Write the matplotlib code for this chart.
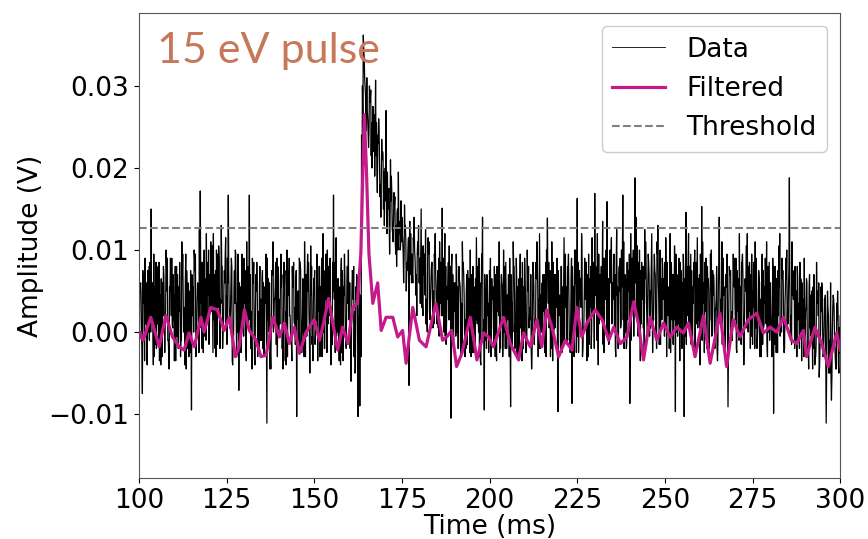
import numpy as np
import matplotlib
matplotlib.use("Agg")
import matplotlib.pyplot as plt

# ---- data (amplitudes in units of 0.1 mV) ----
# samples at 100.0, 100.5, 101.0, ... ms
data_units_a = [
    30, 60, -75, 40, 20, 75, -10, 150, 5, 50,
    -20, 65, 35, -30, 80, 15, 50, -25, 90, 10,
    45, -35, 70, 25, -10, 95, 30, -45, 60, 20,
    -95, 55, 75, 5, 40, 172, -20, 65, 30, 85,
    -15, 110, 40, 70, -30, 95, 20, 130, 0, 60,
    45, 167, 10, 80, -5, 100, 35, -71, 55, 20,
    90, -20, 60, 167, 25, 70, -35, 50, 15, 80,
    -10, 60, 35, -111, 45, -25, 70, 10, 85, -30,
    40, 95, 5, 55, -40, 75, 20, -15, 65, 30,
    -103, 50, 85, 0, 40, -30, 70, 25, 105, -5,
    60, 15, -35, 80, 40, 120, -20, 55, 10, 90,
    30, 167, -25, 65, 20, -40, 75, 45, -5, 60,
    15, -60, 70, 25, 40, -103, -90, 240, 362, 300,
    310, 225, 285, 200, 260, 307, 170, 245, 140, 220,
    130, 270, 150, 95, 190, 110, 165, 80, 195, 100,
    140, 60, 130, 85, -65, 120, 70, 140, 45, 110,
    60, 150, 20, 95, 40, 115, 15, 85, 50, 120,
    10, 90, 35, 151, 0, 80, 40, 105, -105, 70,
    25, 95, -20, 60, 35, 85, -30, 70, 15, 100,
    40, -25, 65, 10, 90, -40, 140, -95, 50, 20,
    75, -15, 55, 30, -35, 80, 10, 60, 100, -20,
    45, 70, -91, 35, 80, 0, 55, -30, 65, 20,
    90, -10, 50, 30, -45, 75, 15, 110, 40, -20,
    60, 25, 85, 139, 5, 50, -35, 70, 30, -97,
    45, 80, -10, 60, 20, 95, -25, -87, 55, 100,
    163, 10, 65, -30, 45, 85, 5, 60, -20, 75,
    169, 30, -40, 70, 15, 90, 40, 159, -15, 60,
    25, 95, -30, 55, 80, 10, 167, 35, -20, 75,
    -87, 50, 100, 188, 20, 85, -35, 60, 30, 110,
    0, 70, 45, -25, 95, 25, 130, -10, 65, 40,
    85, -30, 55, 120, 15, 70, -97, 45, 90, 5,
    60, -103, 146, 20, 80, -15, 55, 100, 10, 65,
    -40, 153, 35, 75, -20, 50, 95, 0, 60, 30,
    -35, 140, 40, 80, -10, 55, -91, 70, 20, 95,
    35, -25, 65, 10, 85, -40, 50, 120, 25, 70,
    -15, 45, 90, 5, 60, -30, 75, 35, 110, 0,
    55, -30, -99, 80, 40, 105, 10, 65, -25, 90,
    30, 188, 20, 75, -20, 50, 15, 85, -35, 40,
    0, 60, -45, 45, 10, 70, -30, 35, -55, 55,
    0, 40, -111, 30, -50, -83, 45, -20, 35, -40,
    20,
]
# samples at 100.125, 100.625, 101.125, ... ms
data_units_c = [
    -30, 45, 75, -35, 60, 0, 85, 15, -40, 55,
    80, -15, 45, -30, 70, 20, 90, -45, 60, 5,
    -35, 65, 15, 85, -10, 50, -40, 75, 35, -25,
    70, 0, 95, 40, -25, 75, 15, 100, -10, 60,
    10, 90, -25, 65, 100, 30, -20, 80, 5, 95,
    -15, 75, 25, -35, 55, 95, 0, 60, -25, 70,
    45, -35, 80, 15, -15, 60, -40, 85, 25, -10,
    65, -25, 35, 90, 0, -45, 70, 40, -15, 80,
    10, 55, -45, 75, -5, 60, 20, -35, 85, -15,
    50, -25, 75, 20, -30, 70, 95, 0, 45, -35,
    75, 15, 55, -30, 90, 0, 65, -25, 80, 25,
    -15, 60, 85, 10, -35, 75, 20, 95, -20, 35,
    60, -5, 40, -50, 70, -40, 45, 180, 345, 290,
    270, 245, 295, 230, 265, 215, 240, 200, 185, 215,
    185, 150, 165, 130, 170, 140, 110, 145, 125, 105,
    120, 90, 110, 75, 105, 85, 60, 100, 70, 95,
    90, 30, 105, 45, 15, 95, 35, 85, 10, 75,
    60, -5, 85, 20, 75, -15, 65, 15, 80, 5,
    40, 75, -20, 55, -25, 70, 15, -15, 65, 5,
    -25, 55, 15, 80, -30, 45, -5, 70, -20, 35,
    -10, 65, 5, -30, 80, 20, -20, 55, 0, 85,
    45, -30, 70, 0, 40, 90, -25, 60, 10, -20,
    65, -10, 80, 15, -25, 55, 5, 90, -20, 45,
    0, 70, -30, 60, 20, -20, 85, 5, 45, 75,
    40, -25, 60, 95, -15, 45, 5, 80, -30, 55,
    -5, 75, 30, -20, 90, 15, -30, 65, 5, 85,
    45, -10, 95, 20, 65, -25, 75, 35, -5, 90,
    60, 0, 85, -20, 50, 100, 15, 70, -15, 75,
    30, 90, -5, 60, 105, 10, 75, 40, -20, 85,
    55, -5, 95, 25, 75, -20, 60, 100, 15, 65,
    10, 85, 40, -25, 70, 15, 95, -5, 50, 75,
    25, 65, -15, 90, 0, 75, 35, -25, 70, 15,
    95, -10, 60, 25, 80, -20, 50, 75, 5, 40,
    -15, 70, 15, 90, -5, 55, -25, 75, 25, 60,
    15, 75, -10, 55, 95, -20, 60, 25, 85, -5,
    50, -20, 70, 15, -30, 75, 5, 90, -15, 45,
    60, -10, 80, 30, -25, 55, 15, 75, -20, 65,
    10, 60, -15, 40, 80, -30, 35, 0, 60, -30,
    25, -25, 55, -5, -45, 40, -15, 50, -40, 25,
    -30, 35, -50, 20, -20, -55, 40, -35, 15, -50,
]
# samples at 100.25, 100.75, 101.25, ... ms
data_units_b = [
    55, 0, 35, 90, -25, 45, 70, 10, 95, -15,
    40, 85, -40, 60, 25, 100, -10, 55, 20, 70,
    15, 80, -20, 50, 110, 0, 65, 35, -30, 75,
    20, 100, -30, 60, 125, 35, 85, -5, 120, 45,
    70, 25, 120, -20, 60, 105, 40, 80, 55, 115,
    90, 30, 60, -40, 75, 20, 95, 0, 50, 85,
    35, 110, 10, 70, -45, 85, 30, 60, -25, 40,
    75, -30, 95, 15, 60, 5, 110, 40, -15, 65,
    10, 70, 30, -35, 100, 45, -5, 80, 15, 60,
    20, 90, -25, 65, 110, 5, 50, -50, 80, 35,
    -15, 95, 25, 55, -30, 75, 40, 100, 20, -40,
    85, 40, 115, 0, 55, 90, -35, 65, 25, 100,
    -20, 50, 80, -45, 60, 20, 40, 300, 335, 245,
    260, 300, 215, 275, 190, 255, 230, 165, 235, 150,
    200, 120, 175, 210, 125, 170, 95, 150, 120, 160,
    110, 155, 50, 100, 135, 60, 115, 90, 20, 130,
    35, 105, 70, 125, 0, 110, 60, 30, 95, 45,
    75, 110, 20, 65, 120, 15, 85, 30, 95, -10,
    60, 0, 80, 30, 110, 45, -20, 75, 50, -30,
    80, 30, 115, 25, 60, 95, 0, 45, 70, -25,
    90, 40, -15, 70, 25, 110, 55, -30, 80, 35,
    15, 90, 45, 110, -20, 65, 30, 95, -35, 55,
    40, 100, 5, 70, 25, -15, 85, 50, 120, 10,
    70, -25, 100, 35, 75, 110, 0, 60, 90, 20,
    -20, 55, 115, 30, 80, -10, 65, 40, 100, -25,
    85, 40, 120, 5, 60, -35, 95, 30, 115, 45,
    80, 120, 10, 60, 135, 45, 100, -10, 75, 115,
    40, 70, 125, -20, 90, 55, 110, 0, 85, 50,
    120, 30, 75, 140, 45, 100, 10, 80, 125, 35,
    95, 50, 120, 15, 70, 110, 40, -15, 90, 60,
    115, 30, -20, 85, 45, 105, 0, 70, -35, 60,
    95, 25, 80, 120, 45, -10, 85, 40, 115, 20,
    75, 110, -25, 90, 55, 15, 100, 45, -20, 80,
    60, 20, 110, 45, -30, 95, 40, 75, -10, 55,
    90, 25, 120, -15, 70, 35, 105, 0, 60, 95,
    30, 110, -20, 75, 40, 95, 10, 65, -30, 85,
    20, 90, 50, -25, 75, 120, 0, 60, 35, 100,
    55, 10, 110, 40, -15, 80, 25, 65, -5, 90,
    30, -30, 70, 5, 55, -40, 85, 20, -15, 60,
    -25, 45, 10, -50, 60, 0, 30, -45, 50, 5,
]
# samples at 100.375, 100.875, 101.375, ... ms
data_units_d = [
    55, -20, 70, 10, -40, 80, 0, 60, -30, 85,
    10, -35, 65, 20, -25, 80, -10, 50, 90, 15,
    80, -5, 55, -30, 65, 5, 95, -20, 50, 15,
    25, 90, -15, 55, 5, 85, -25, 65, 15, 100,
    30, 105, 15, 75, -15, 90, 35, -20, 75, 10,
    60, 5, 90, -15, 35, -30, 75, 15, 95, -5,
    75, 10, 55, -20, 90, 0, 70, -30, 55, 5,
    -20, 55, -10, 65, -45, 75, 0, 55, 90, -5,
    65, -20, 85, 25, -30, 90, -5, 55, 10, 75,
    15, 85, 0, -25, 55, -5, 85, 25, -15, 65,
    0, 55, 80, -15, 65, -20, 95, 15, 65, -10,
    50, 85, -5, 65, 15, -25, 55, -5, 80, 15,
    5, 75, -30, 55, -5, 50, -30, 250, 310, 270,
    240, 280, 255, 220, 250, 205, 260, 180, 210, 195,
    160, 195, 140, 160, 120, 155, 130, 100, 135, 110,
    95, 125, 80, 115, 70, 95, 110, 65, 95, 60,
    100, 35, 85, 10, 110, 25, 75, 5, 90, 30,
    5, 75, 20, 90, -5, 55, 15, 80, -15, 60,
    -5, 55, 65, -30, 75, -5, 50, 60, -25, 70,
    60, -20, 65, 0, -35, 80, 15, -10, 60, 10,
    -30, 55, 80, -5, 50, -25, 70, 0, 65, -20,
    70, 0, -20, 80, 10, -30, 65, 5, 85, -5,
    -25, 60, 20, -20, 85, 5, 65, -30, 55, 0,
    50, -20, 65, 85, -30, 55, 5, 70, -20, 40,
    80, 10, -15, 55, 65, -5, 90, -25, 60, 10,
    -25, 55, 85, 0, 40, 70, -15, 80, 20, -20,
    70, 15, 55, 80, -15, 90, 0, 65, 100, 10,
    85, -20, 45, 70, 5, 85, -20, 65, 15, 95,
    -10, 70, 30, 95, -5, 55, 85, 5, 65, 20,
    85, 5, 45, 70, -5, 95, -15, 60, 80, -5,
    65, 20, 5, 80, -15, 55, 65, 10, 85, -20,
    75, -5, 55, 5, 95, -15, 65, 85, 5, 70,
    5, 55, 85, -15, 65, 15, -5, 70, 25, -20,
    85, 15, -15, 55, 70, 5, 80, -10, 45, 90,
    -20, 55, 15, 85, -5, 65, 5, 80, -20, 55,
    85, 5, -10, 65, 25, -15, 55, 10, 80, -10,
    5, 70, -15, 65, 20, -5, 90, -15, 55, 5,
    80, -10, 45, 70, 0, 65, -20, 55, 5, -15,
    65, -15, 5, 50, -20, -30, 40, 60, -15, 45,
    -5, -40, 50, -10, -55, 30, -15, -45, 25, -25,
]

filt_t = [100.0, 100.3, 101.2, 103.4, 105.8, 107.7, 109.6, 111.5, 112.9, 114.3,
          115.8, 117.7, 118.6, 120.5, 122.4, 124.3, 125.8, 127.5, 128.6, 130.1,
          131.5, 133.4, 134.8, 136.3, 138.2, 140.1, 141.5, 142.9, 144.3, 145.8,
          147.7, 150.0, 151.5, 152.4, 154.1, 155.3, 156.7, 158.1, 159.6, 161.0,
          162.3, 163.3, 164.0, 164.3, 164.9, 165.6, 166.7, 168.1, 169.1, 170.5,
          172.4, 173.8, 175.2, 176.2, 178.1, 180.0, 181.9, 184.7, 186.6, 187.8,
          189.2, 190.6, 192.1, 194.5, 196.4, 198.3, 199.7, 201.1, 204.0, 205.9,
          208.3, 209.7, 211.6, 213.5, 214.9, 216.3, 217.8, 219.7, 221.6, 223.5,
          224.9, 226.3, 227.8, 230.1, 232.1, 234.0, 235.4, 237.3, 239.2, 241.1,
          242.4, 243.9, 245.8, 247.7, 249.6, 251.5, 253.4, 255.3, 256.7, 258.6,
          261.0, 262.9, 265.7, 267.6, 269.5, 271.4, 273.8, 276.2, 278.1, 280.0,
          281.9, 283.8, 286.1, 287.6, 289.5, 290.4, 292.8, 294.7, 296.6, 298.0,
          299.0, 300.0]
filt_units = [-8, 0, -10, 18, -18, 20, -6, -18, -22, -1,
              -18, 18, 0, 30, 27, 2, 18, -30, -18, 27,
              2, -10, -30, -28, 18, -6, 11, -14, 6, -26,
              0, 15, -10, 6, 41, 11, -22, 6, -14, 30,
              35, 96, 218, 265, 197, 96, 35, 60, 2, 18,
              18, -6, 2, -38, 30, -10, -18, 35, -10, -6,
              2, -42, -26, 18, -34, -1, -6, -18, 18, -14,
              -34, -1, -18, 15, -18, 27, 6, -30, -10, -22,
              30, -6, 11, 27, 15, -10, 6, -14, -6, 37,
              11, -34, 18, -10, 11, -6, 6, -1, 11, -30,
              20, -38, 23, -42, 15, -6, 15, 23, -1, 6,
              0, 18, -10, -14, 2, -30, 6, -14, -42, -18,
              -1, -22]

threshold_units = 127
unit = 1e-4  # V per unit

series = [(100.0, data_units_a), (100.125, data_units_c),
          (100.25, data_units_b), (100.375, data_units_d)]
data_t = np.concatenate([t0 + 0.5 * np.arange(len(v)) for t0, v in series])
data_v = np.concatenate([np.asarray(v, float) for _, v in series]) * unit
order = np.argsort(data_t, kind="stable")
data_t, data_v = data_t[order], data_v[order]
filt_v = np.array(filt_units) * unit

fig = plt.figure(figsize=(8.68, 5.39), dpi=100)
ax = fig.add_axes([0.160, 0.113, 0.808, 0.863])

ax.plot(data_t, data_v, color="black", lw=0.9, label="Data")
ax.plot(filt_t, filt_v, color="#c51b8a", lw=2.3, label="Filtered")
ax.axhline(threshold_units * unit, color="gray", ls="--", lw=1.5, label="Threshold")

ax.set_xlim(100, 300)
ax.set_ylim(-0.0178, 0.0389)
ax.set_xticks(np.arange(100, 301, 25))
ax.set_yticks([-0.01, 0.0, 0.01, 0.02, 0.03])
ax.set_yticklabels(["\u22120.01", "0.00", "0.01", "0.02", "0.03"])
ax.tick_params(labelsize=19)
ax.set_xlabel("Time (ms)", fontsize=19, labelpad=0)
ax.set_ylabel("Amplitude (V)", fontsize=19, labelpad=3)
for s in ax.spines.values():
    s.set_color("#555555")

ax.text(0.026, 0.96, "15 eV pulse", transform=ax.transAxes, ha="left", va="top",
        fontsize=31, color="#c8785a", family="Lato")

leg = ax.legend(loc="upper right", fontsize=19, framealpha=1.0)
for line in leg.get_lines():
    if line.get_label() == "Data":
        line.set_linewidth(0.6)

fig.savefig("out.png", dpi=100)
